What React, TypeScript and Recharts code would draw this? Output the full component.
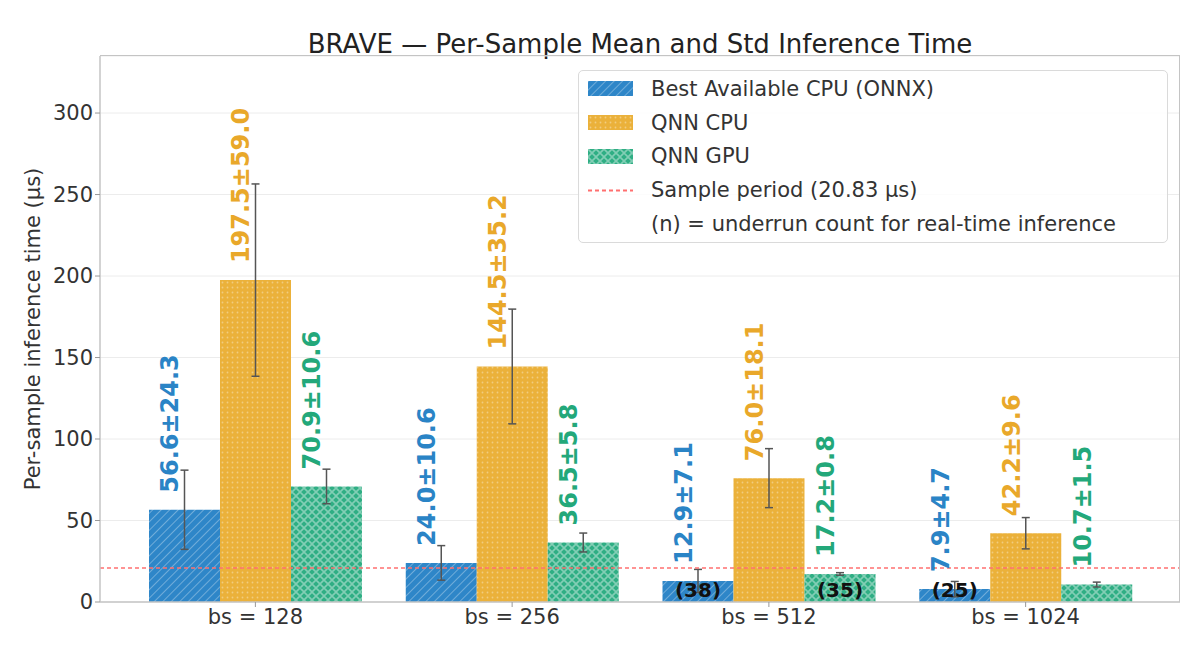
import {
  BarChart,
  Bar,
  XAxis,
  YAxis,
  CartesianGrid,
  ErrorBar,
  LabelList,
  ReferenceLine,
} from 'recharts';

const categories = ['bs = 128', 'bs = 256', 'bs = 512', 'bs = 1024'];

const bestMean = [56.6, 24.0, 12.9, 7.9];
const bestStd = [24.3, 10.6, 7.1, 4.7];
const bestUnderrun = [null, null, 38, 25];

const qnnCpuMean = [197.5, 144.5, 76.0, 42.2];
const qnnCpuStd = [59.0, 35.2, 18.1, 9.6];
const qnnCpuUnderrun = [null, null, null, null];

const qnnGpuMean = [70.9, 36.5, 17.2, 10.7];
const qnnGpuStd = [10.6, 5.8, 0.8, 1.5];
const qnnGpuUnderrun = [null, null, 35, null];

const yTicks = [0, 50, 100, 150, 200, 250, 300];
const samplePeriod = 20.83;

const FONT = '"DejaVu Sans", sans-serif';
const INK = '#333';
const SPINE = '#c4c4c4';

const series = [
  { key: 'best', name: 'Best Available CPU (ONNX)', fill: 'url(#hatchBlue)', text: '#2a84c6' },
  { key: 'cpu', name: 'QNN CPU', fill: 'url(#dotsOrange)', text: '#e9a82a' },
  { key: 'gpu', name: 'QNN GPU', fill: 'url(#crossGreen)', text: '#23a87a' },
];

const rows = categories.map((cat, i) => ({
  cat,
  best: bestMean[i],
  bestStd: bestStd[i],
  bestUnder: bestUnderrun[i],
  cpu: qnnCpuMean[i],
  cpuStd: qnnCpuStd[i],
  cpuUnder: qnnCpuUnderrun[i],
  gpu: qnnGpuMean[i],
  gpuStd: qnnGpuStd[i],
  gpuUnder: qnnGpuUnderrun[i],
}));

// pull bar geometry out of LabelList props (v3 passes a viewBox too)
function geom(p: any) {
  const vb = p.viewBox ?? {};
  return {
    x: Number(p.x ?? vb.x),
    y: Number(p.y ?? vb.y),
    w: Number(p.width ?? vb.width),
    h: Number(p.height ?? vb.height),
  };
}

const valueLabel = (key: string, color: string) => (p: any) => {
  const { x, y, w } = geom(p);
  const row: any = rows[p.index];
  if (!row) return null;
  const cx = x + w / 2 - 14;
  const by = y - 17;
  return (
    <text
      x={cx}
      y={by}
      transform={`rotate(-90 ${cx} ${by})`}
      textAnchor="start"
      dominantBaseline="central"
      fill={color}
      fontFamily={FONT}
      fontWeight="bold"
      fontSize={24}
    >
      {`${row[key].toFixed(1)}±${row[key + 'Std'].toFixed(1)}`}
    </text>
  );
};

const underrunLabel = (key: string) => (p: any) => {
  const { x, y, w, h } = geom(p);
  const row: any = rows[p.index];
  if (!row || row[key + 'Under'] == null) return null;
  return (
    <text
      x={x + w / 2}
      y={y + h - 12}
      textAnchor="middle"
      dominantBaseline="central"
      fill="#111"
      fontFamily={FONT}
      fontWeight="bold"
      fontSize={20}
    >
      {`(${row[key + 'Under']})`}
    </text>
  );
};

const YLabel = ({ viewBox }: any) => {
  const cx = 33;
  const cy = viewBox.y + viewBox.height / 2;
  return (
    <text
      x={cx}
      y={cy}
      transform={`rotate(-90 ${cx} ${cy})`}
      textAnchor="middle"
      dominantBaseline="central"
      fill={INK}
      fontFamily={FONT}
      fontSize={21}
    >
      Per-sample inference time (µs)
    </text>
  );
};

function Patterns() {
  return (
    <svg width={0} height={0} style={{ position: 'absolute' }}>
      <defs>
        <pattern id="hatchBlue" width={6} height={6} patternUnits="userSpaceOnUse" patternTransform="rotate(45)">
          <rect width={6} height={6} fill="#2e86c8" />
          <line x1={0} y1={0} x2={0} y2={6} stroke="#fff" strokeOpacity={0.4} strokeWidth={1.6} />
        </pattern>
        <pattern id="dotsOrange" width={5} height={5} patternUnits="userSpaceOnUse">
          <rect width={5} height={5} fill="#ebb13a" />
          <circle cx={2.5} cy={2.5} r={0.9} fill="#fff" fillOpacity={0.35} />
        </pattern>
        <pattern id="crossGreen" width={8} height={8} patternUnits="userSpaceOnUse">
          <rect width={8} height={8} fill="#2fae84" />
          <path d="M0 0 L8 8 M8 0 L0 8" stroke="#fff" strokeOpacity={0.4} strokeWidth={1.6} />
        </pattern>
      </defs>
    </svg>
  );
}

function LegendBox() {
  const item = { display: 'flex', alignItems: 'center', height: 33.75 } as const;
  const label = { marginLeft: 18, whiteSpace: 'nowrap' } as const;
  return (
    <div
      style={{
        position: 'absolute',
        left: 578,
        top: 70,
        width: 590,
        height: 173,
        boxSizing: 'border-box',
        border: '1px solid #dadada',
        borderRadius: 5,
        background: 'rgba(255,255,255,0.85)',
        paddingTop: 1,
        paddingLeft: 9,
        fontFamily: FONT,
        fontSize: 21,
        color: INK,
      }}
    >
      {series.map((s) => (
        <div key={s.key} style={item}>
          <svg width={45} height={15}>
            <rect width={45} height={15} fill={s.fill} />
          </svg>
          <span style={label}>{s.name}</span>
        </div>
      ))}
      <div style={item}>
        <svg width={45} height={15}>
          <line x1={0} y1={7.5} x2={45} y2={7.5} stroke="#ff6f6f" strokeWidth={2} strokeDasharray="4 3" />
        </svg>
        <span style={label}>Sample period ({samplePeriod} µs)</span>
      </div>
      <div style={item}>
        <span style={{ ...label, marginLeft: 63 }}>(n) = underrun count for real-time inference</span>
      </div>
    </div>
  );
}

export default function App() {
  const axisLine = { stroke: SPINE, strokeWidth: 1.5 };
  const tick = { fill: INK, fontSize: 21, fontFamily: FONT };
  return (
    <div
      style={{
        position: 'absolute',
        left: 0,
        top: 0,
        width: 1200,
        height: 663,
        background: '#fff',
        fontFamily: FONT,
      }}
    >
      <Patterns />
      <div
        style={{
          position: 'absolute',
          left: 100,
          top: 29,
          width: 1080,
          textAlign: 'center',
          fontSize: 26,
          lineHeight: '30px',
          color: '#222',
        }}
      >
        BRAVE — Per-Sample Mean and Std Inference Time
      </div>
      <BarChart
        width={1200}
        height={663}
        data={rows}
        margin={{ top: 56, right: 20, bottom: 0, left: 0 }}
        barGap={0}
      >
        <CartesianGrid vertical={false} stroke="#ececec" strokeWidth={1} />
        <XAxis
          dataKey="cat"
          height={61}
          padding={{ left: 27, right: 26 }}
          axisLine={axisLine}
          tickLine={{ stroke: '#999' }}
          tickSize={5}
          tick={tick}
          interval={0}
        />
        <YAxis
          width={100}
          domain={[0, 335]}
          ticks={yTicks}
          axisLine={axisLine}
          tickLine={{ stroke: '#999' }}
          tickSize={5}
          tick={tick}
          label={<YLabel />}
        />
        {series.map((s) => (
          <Bar key={s.key} dataKey={s.key} name={s.name} fill={s.fill} barSize={71} isAnimationActive={false}>
            <ErrorBar dataKey={s.key + 'Std'} width={4} stroke="#555" strokeWidth={1.5} direction="y" />
            <LabelList dataKey={s.key} content={valueLabel(s.key, s.text)} />
            <LabelList dataKey={s.key} content={underrunLabel(s.key)} />
          </Bar>
        ))}
        <ReferenceLine
          y={samplePeriod}
          stroke="#ff6f6f"
          strokeOpacity={0.75}
          strokeWidth={2}
          strokeDasharray="4 3"
        />
      </BarChart>
      {/* top and right spines of the axes frame */}
      <div
        style={{
          position: 'absolute',
          left: 100,
          top: 55,
          width: 1080,
          height: 547,
          boxSizing: 'border-box',
          borderTop: `1.5px solid ${SPINE}`,
          borderRight: `1.5px solid ${SPINE}`,
          pointerEvents: 'none',
        }}
      />
      <LegendBox />
    </div>
  );
}
